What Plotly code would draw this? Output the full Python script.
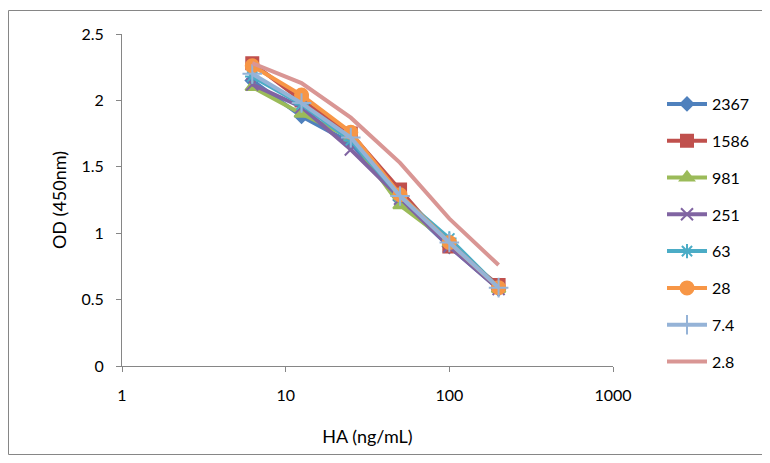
import plotly.graph_objects as go

x_vals = [6.25, 12.5, 25, 50, 100, 200]
series_names = ["2367", "1586", "981", "251", "63", "28", "7.4", "2.8"]
s2367 = [2.15, 1.88, 1.68, 1.25, 0.90, 0.58]
s1586 = [2.28, 2.00, 1.75, 1.33, 0.90, 0.61]
s981 = [2.10, 1.90, 1.72, 1.21, 0.93, 0.58]
s251 = [2.12, 1.95, 1.63, 1.26, 0.90, 0.58]
s63 = [2.18, 1.97, 1.70, 1.28, 0.96, 0.59]
s28 = [2.26, 2.04, 1.76, 1.29, 0.93, 0.59]
s7_4 = [2.20, 1.98, 1.72, 1.28, 0.93, 0.59]
s2_8 = [2.28, 2.13, 1.87, 1.53, 1.11, 0.76]
series_values = [s2367, s1586, s981, s251, s63, s28, s7_4, s2_8]
y_ticks = [0, 0.5, 1, 1.5, 2, 2.5]
y_tick_labels = ["0", "0.5", "1", "1.5", "2", "2.5"]
x_ticks = [1, 10, 100, 1000]
x_tick_labels = ["1", "10", "100", "1000"]

colors = ["#4F81BD", "#C0504D", "#9BBB59", "#8064A2", "#4BACC6", "#F79646", "#95B3D7", "#D99694"]
symbols = ["diamond", "square", "triangle-up", "x-thin-open", "asterisk-open", "circle", "cross-thin-open", None]
sizes = [10, 12, 12, 12, 12, 13, 14, 0]

fig = go.Figure()
for name, vals, c, sym, sz in zip(series_names, series_values, colors, symbols, sizes):
    if sym is None:
        fig.add_trace(go.Scatter(x=x_vals, y=vals, name=name, mode="lines",
                                 line=dict(color=c, width=4), legendgroup=name))
    else:
        fig.add_trace(go.Scatter(x=x_vals, y=vals, name=name, mode="lines+markers",
                                 line=dict(color=c, width=4),
                                 marker=dict(symbol=sym, size=sz, color=c,
                                             line=dict(color=c, width=2)),
                                 legendgroup=name))

# page body has an 8px margin: figure origin is at window (8, 8)
OFF = 8
W, H = 770 - OFF, 463 - OFF
L, T = 122 - OFF, 34 - OFF
R = W - (613 - OFF)
B = H - (366 - OFF)
pw, ph = W - L - R, H - T - B

def px_x(p):
    return (p - OFF - L) / pw

def px_y(p):
    return (H - B - (p - OFF)) / ph

fig.update_layout(
    width=W, height=H,
    margin=dict(l=L, r=R, t=T, b=B),
    paper_bgcolor="white", plot_bgcolor="white",
    font=dict(family="Lato, Open Sans, sans-serif", size=16, color="#000000"),
    showlegend=True,
    legend=dict(x=px_x(662), y=px_y(87), xanchor="left", yanchor="top",
                font=dict(size=16), tracegroupgap=13, itemwidth=40,
                bgcolor="rgba(0,0,0,0)"),
    xaxis=dict(type="log", range=[0, 3], tickvals=x_ticks, ticktext=x_tick_labels,
               showgrid=False, zeroline=False, showline=True,
               linecolor="#868686", linewidth=1, ticks="outside",
               tickcolor="#868686", ticklen=5, ticklabelstandoff=10,
               title=dict(text="HA (ng/mL)", font=dict(size=18), standoff=27)),
    yaxis=dict(range=[0, 2.5], tickvals=y_ticks, ticktext=y_tick_labels,
               showgrid=False, zeroline=False, showline=True,
               linecolor="#868686", linewidth=1, ticks="outside",
               tickcolor="#868686", ticklen=5, ticklabelstandoff=9,
               title=dict(text="OD (450nm)", font=dict(size=18), standoff=10)),
    shapes=[dict(type="rect", xref="paper", yref="paper",
                 x0=px_x(8.5), x1=px_x(769.5), y0=px_y(454.5), y1=px_y(10.5),
                 line=dict(color="#868686", width=1), fillcolor="rgba(0,0,0,0)",
                 layer="below")],
)

fig.write_html("out.html")
